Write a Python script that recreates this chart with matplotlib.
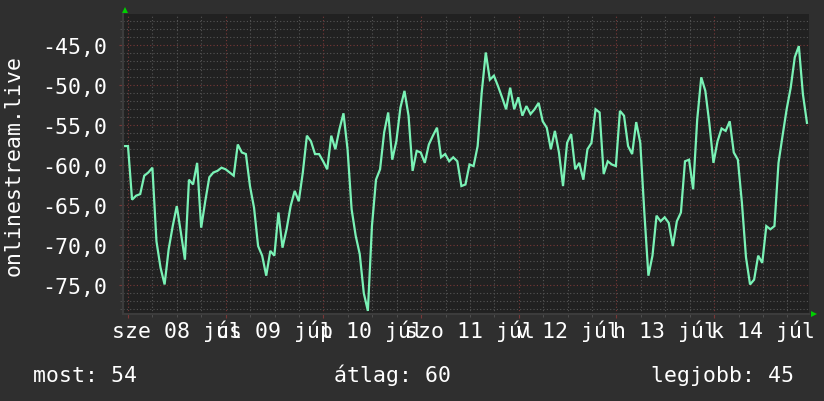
import numpy as np
import matplotlib.pyplot as plt
from matplotlib.ticker import MultipleLocator, FuncFormatter
from matplotlib.transforms import blended_transform_factory

# hours counted from Wed 8 Jul 00:00, one reading per hour
t_start, t_end = -1.0, 166.8
signal = [
    -57.6, -57.6, -64.3, -63.8, -63.6, -61.3, -60.9, -60.3, -69.5, -72.8,
    -74.9, -70.5, -67.6, -65.1, -68.4, -71.8, -61.8, -62.4, -59.7, -67.8,
    -64.5, -61.5, -60.9, -60.7, -60.3, -60.5, -60.9, -61.3, -57.4, -58.4,
    -58.6, -62.6, -65.3, -70.1, -71.3, -73.8, -70.7, -71.3, -65.9, -70.3,
    -68.0, -65.1, -63.2, -64.5, -60.9, -56.3, -57.0, -58.6, -58.6, -59.5,
    -60.5, -56.3, -58.0, -55.5, -53.5, -58.0, -65.5, -68.8, -71.1, -76.0,
    -78.2, -67.6, -61.8, -60.5, -55.9, -53.4, -59.3, -57.0, -52.8, -50.7,
    -53.8, -60.7, -58.2, -58.4, -59.7, -57.4, -56.3, -55.3, -59.0, -58.6,
    -59.5, -59.0, -59.5, -62.6, -62.4, -59.9, -60.1, -57.6, -50.9, -45.9,
    -49.3, -48.8, -50.1, -51.5, -53.0, -50.3, -53.0, -51.5, -53.8, -52.6,
    -53.6, -53.0, -52.2, -54.5, -55.3, -58.0, -55.7, -58.4, -62.6, -57.2,
    -56.1, -60.5, -59.7, -61.8, -58.0, -57.2, -53.0, -53.4, -61.1, -59.5,
    -59.9, -60.1, -53.2, -53.8, -57.6, -58.6, -54.6, -57.2, -65.9, -73.8,
    -71.3, -66.3, -67.0, -66.5, -67.2, -70.1, -67.0, -65.9, -59.5, -59.3,
    -63.0, -54.3, -49.0, -50.7, -54.8, -59.7, -57.0, -55.4, -55.7, -54.5,
    -58.4, -59.3, -64.7, -71.5, -74.9, -74.3, -71.3, -72.2, -67.6, -68.0,
    -67.6, -59.7, -56.3, -53.0, -50.3, -46.5, -45.1, -51.1, -54.7,
]
hours = np.linspace(t_start, t_end, len(signal))

day_labels = ["sze 08 júl", "cs 09 júl", "p 10 júl", "szo 11 júl",
              "v 12 júl", "h 13 júl", "k 14 júl"]
label_hours = [12, 36, 60, 84, 108, 132, 156]
stats = ["most: 54", "átlag: 60", "legjobb: 45"]
stats_x = [33, 334, 651]

bg = '#2f2f2f'
plot_bg = '#212121'
minor_col = '#555555'
major_col = '#7a3838'
line_col = '#7af2b6'
mono = 'DejaVu Sans Mono'
fs = 15.5

W, H = 824, 402
fig = plt.figure(figsize=(W / 100, H / 100), dpi=100, facecolor=bg)
ax = fig.add_axes([123 / W, 1 - 315 / H, 686 / W, 300 / H], facecolor=plot_bg)

ax.plot(hours, signal, color=line_col, lw=1.6, solid_joinstyle='miter')

ax.set_xlim(-1.23, 167.3)
ax.set_ylim(-78.59, -41.09)

ax.xaxis.set_major_locator(MultipleLocator(24))
ax.xaxis.set_minor_locator(MultipleLocator(6))
ax.yaxis.set_major_locator(MultipleLocator(5))
ax.yaxis.set_minor_locator(MultipleLocator(1))
ax.yaxis.set_major_formatter(FuncFormatter(lambda v, p: f"{v:.1f}".replace('.', ',')))
ax.xaxis.set_major_formatter(FuncFormatter(lambda v, p: ""))

dots = (0, (1, 2))
ax.grid(which='minor', color=minor_col, linestyle=dots, lw=0.8)
ax.grid(which='major', color=major_col, linestyle=dots, lw=0.8)
ax.set_axisbelow(True)

ax.tick_params(which='both', direction='out', labelcolor='white', labelsize=fs)
ax.tick_params(which='major', color=major_col, length=3)
ax.tick_params(which='minor', color=minor_col, length=2)
ax.tick_params(axis='y', which='major', pad=8)
for lab in ax.get_yticklabels():
    lab.set_family(mono)

for s in ['top', 'right']:
    ax.spines[s].set_visible(False)
for s in ['bottom', 'left']:
    ax.spines[s].set_color('#3c3c3c')
    ax.spines[s].set_linewidth(1.5)

# axis arrows
ax.plot([0.003], [1.013], marker='^', color='#00d000', ms=5, mew=0,
        transform=ax.transAxes, clip_on=False)
ax.plot([1.008], [0.0], marker='>', color='#00d000', ms=5, mew=0,
        transform=ax.transAxes, clip_on=False)

trans = blended_transform_factory(ax.transData, ax.transAxes)
for h, lab in zip(label_hours, day_labels):
    ax.text(h, -0.077, lab, transform=trans, ha='center', va='baseline',
            color='white', family=mono, fontsize=fs)

fig.text(14 / W, 1 - 165 / H, "onlinestream.live", rotation=90, ha='center',
         va='center', color='white', family=mono, fontsize=fs)

for x, s in zip(stats_x, stats):
    fig.text(x / W, 1 - 382 / H, s, ha='left', va='baseline', color='white',
             family=mono, fontsize=fs)

fig.savefig('out.png', dpi=100, facecolor=bg)
